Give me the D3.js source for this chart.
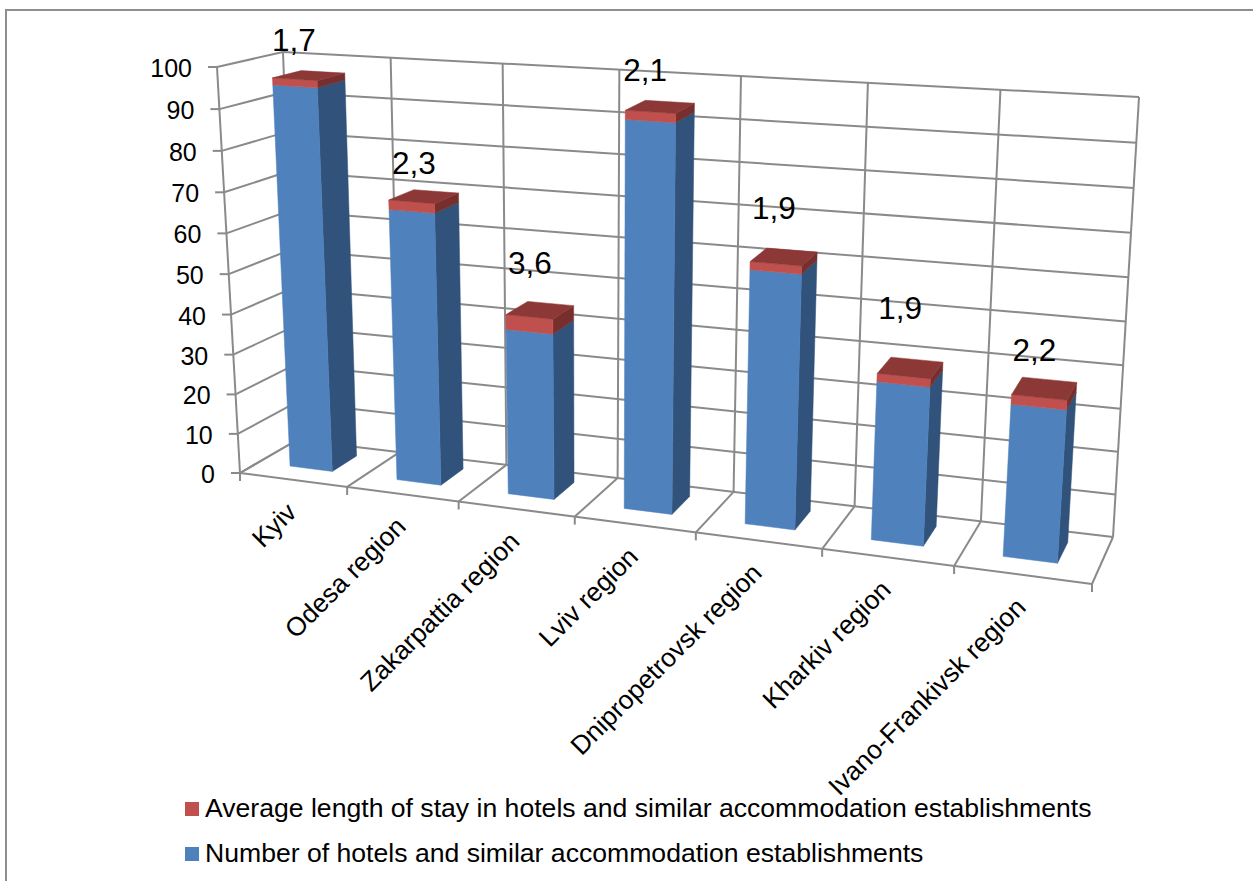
<!DOCTYPE html>
<html>
<head>
<meta charset="utf-8">
<style>
html,body{margin:0;padding:0;background:#fff;overflow:hidden}
text{font-family:"Liberation Sans",Arial,sans-serif;fill:#000}
</style>
</head>
<body>
<svg id="chart" width="1253" height="881"></svg>
<script src="https://cdn.jsdelivr.net/npm/d3@7"></script>
<script>
// Regional accommodation figures
const categories = ["Kyiv","Odesa region","Zakarpattia region","Lviv region","Dnipropetrovsk region","Kharkiv region","Ivano-Frankivsk region"];
const establishments = [95,67,40.5,92.3,60,37,35];
const averageStay = [1.7,2.3,3.6,2.1,1.9,1.9,2.2];
const legendLabels = ["Average length of stay in hotels and similar accommodation establishments","Number of hotels and similar accommodation establishments"];
// Hand placement of each value label relative to its column top, in pixels
const labelRaise = [36,34,47,37,49,60,39];
const labelShift = [-15,-10,-10,-15,-10,-10,-10];

const colors = {
  blue:"#4f81bd", blueSide:"#31527b",
  red:"#c0504d", redSide:"#772f2d", redTop:"#8c3836",
  grid:"#8a8a8a", frame:"#8e8e8e"
};

const svg = d3.select("#chart");

// Box corners on screen, indexed [width][depth][height]
const box = [
  [[[240,473],[217,67]],[[297,440],[283,52]]],
  [[[1092,584],[1122,126]],[[1113,537],[1139,97]]]
];
// Perspective foreshortening along width and height
const foreshorten = (t,p) => t*(1+p)/(1+p*t);
const pWidth = -0.137, pHeight = -0.04;

function project(u,v,h){
  const a = foreshorten(u,pWidth), b = v, c = foreshorten(h,pHeight);
  const out = [0,0];
  for(let i=0;i<2;i++){
    for(const [iu,wu] of [[0,1-a],[1,a]])
      for(const [iv,wv] of [[0,1-b],[1,b]])
        for(const [ih,wh] of [[0,1-c],[1,c]])
          out[i]+=box[iu][iv][ih][i]*wu*wv*wh;
  }
  return out;
}

const x = d3.scaleBand().domain(categories).range([0,1]).paddingInner(0.6).paddingOuter(0.3);
const y = d3.scaleLinear().domain([0,100]).range([0,1]);
const depth = d3.scaleLinear().domain([0,1]).range([0.33,0.78]);
const step = x.step();
const cellEdges = d3.range(categories.length+1).map(i=>i*step);

const line = d3.line();
const gridG = svg.append("g").attr("fill","none").attr("stroke",colors.grid).attr("stroke-width",2);
const seg = (a,b)=>gridG.append("path").attr("d",line([a,b]));

// Outer chart frame
svg.append("path").attr("d",line([[6,881],[6,10],[1253,10]]))
  .attr("fill","none").attr("stroke",colors.frame).attr("stroke-width",2);

// Back wall, side wall and floor rules
y.ticks(10).forEach(t=>{
  const h=y(t);
  seg(project(0,0,h),project(0,1,h));
  seg(project(0,1,h),project(1,1,h));
  const p=project(0,0,h);
  seg([p[0]-9,p[1]],p);
});
cellEdges.forEach(u=>{
  seg(project(u,1,0),project(u,1,1));
  seg(project(u,0,0),project(u,1,0));
  const p=project(u,0,0);
  seg(p,[p[0],p[1]+8]);
});
seg(project(0,0,0),project(0,0,1));
seg(project(0,0,0),project(1,0,0));

// Value axis labels
svg.append("g").selectAll("text").data(y.ticks(10)).join("text")
  .attr("x",d=>project(0,0,y(d))[0]-25)
  .attr("y",d=>project(0,0,y(d))[1]+10)
  .attr("text-anchor","end").attr("font-size",25).text(d=>d);

// Columns, drawn left to right
const poly = (g,pts,fill)=>g.append("path").attr("d",line(pts)+"Z").attr("fill",fill).attr("stroke",fill).attr("stroke-width",0.5);
const bars = svg.append("g");
categories.forEach((c,i)=>{
  const g=bars.append("g");
  const u0=x(c), u1=x(c)+x.bandwidth();
  const v0=depth(0), v1=depth(1);
  const h0=y(0), h1=y(establishments[i]), h2=y(establishments[i]+averageStay[i]);
  poly(g,[project(u1,v0,h0),project(u1,v1,h0),project(u1,v1,h1),project(u1,v0,h1)],colors.blueSide);
  poly(g,[project(u0,v0,h0),project(u1,v0,h0),project(u1,v0,h1),project(u0,v0,h1)],colors.blue);
  poly(g,[project(u1,v0,h1),project(u1,v1,h1),project(u1,v1,h2),project(u1,v0,h2)],colors.redSide);
  poly(g,[project(u0,v0,h1),project(u1,v0,h1),project(u1,v0,h2),project(u0,v0,h2)],colors.red);
  poly(g,[project(u0,v0,h2),project(u1,v0,h2),project(u1,v1,h2),project(u0,v1,h2)],colors.redTop);
});

// Value labels use a decimal comma
const fmt = d3.formatLocale({decimal:",",thousands:" ",grouping:[3],currency:["",""]}).format(".1f");
svg.append("g").selectAll("text").data(categories).join("text")
  .attr("text-anchor","middle").attr("font-size",31.5)
  .attr("x",(c,i)=>project(x(c)+x.bandwidth()/2,depth(0.5),y(establishments[i]+averageStay[i]))[0]+labelShift[i])
  .attr("y",(c,i)=>project(x(c)+x.bandwidth()/2,depth(0.5),y(establishments[i]+averageStay[i]))[1]-labelRaise[i]+11)
  .text((c,i)=>fmt(averageStay[i]));

// Category labels
svg.append("g").selectAll("text").data(categories).join("text")
  .attr("text-anchor","end").attr("font-size",26.3)
  .attr("transform",c=>{
    const p=project(x(c)+x.bandwidth()/2,0,0);
    return `translate(${p[0]+5},${p[1]+34}) rotate(-45)`;
  })
  .text(c=>c);

// Legend
const legend = svg.append("g").selectAll("g").data(legendLabels).join("g")
  .attr("transform",(d,i)=>`translate(185,${802+i*45})`);
legend.append("rect").attr("width",14).attr("height",14).attr("fill",(d,i)=>i?colors.blue:colors.red);
legend.append("text").attr("x",20).attr("y",15).attr("font-size",26.6).text(d=>d);
</script>
</body>
</html>
